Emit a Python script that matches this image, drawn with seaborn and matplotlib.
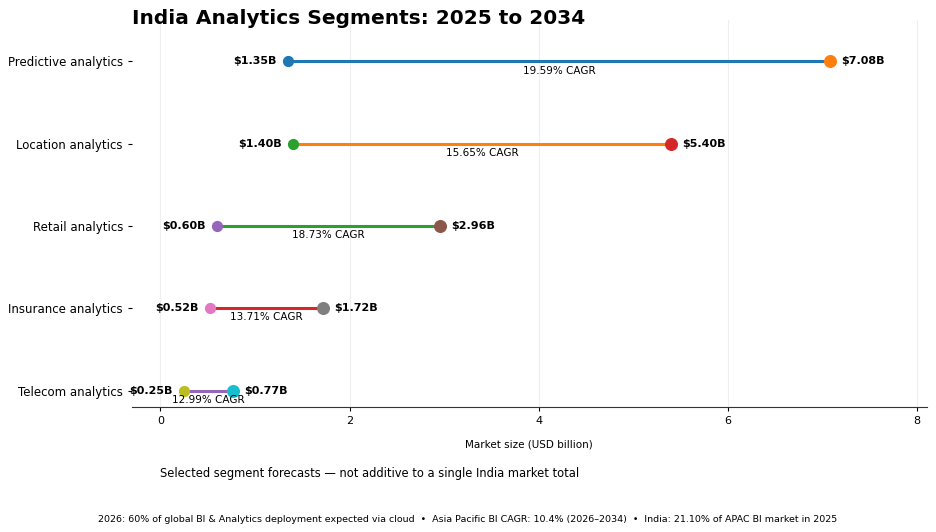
import matplotlib
matplotlib.use("Agg")
import matplotlib.pyplot as plt
import seaborn as sns

segments = ["Predictive analytics", "Location analytics", "Retail analytics", "Insurance analytics", "Telecom analytics"]
v2025 = [1.35, 1.40, 0.60, 0.52, 0.25]
v2034 = [7.08, 5.40, 2.96, 1.72, 0.77]
cagr = ["19.59% CAGR", "15.65% CAGR", "18.73% CAGR", "13.71% CAGR", "12.99% CAGR"]

sns.set_style("white")
plt.rcParams.update({"text.color": "black", "axes.labelcolor": "black",
                     "xtick.color": "black", "ytick.color": "black"})
pal = sns.color_palette("tab10")
fig = plt.figure(figsize=(9.36, 5.32), dpi=100)
ax = fig.add_axes([0.141, 0.235, 0.849, 0.727])
for i, (s, a, b, c) in enumerate(zip(segments, v2025, v2034, cagr)):
    ax.plot([a, b], [i, i], color=pal[i % 10], lw=2.2, zorder=2)
    ax.scatter([a], [i], color=pal[(2 * i) % 10], s=50, zorder=3)
    ax.scatter([b], [i], color=pal[(2 * i + 1) % 10], s=70, zorder=3)
    ax.annotate(f"${a:.2f}B", (a, i), xytext=(-8, 0), textcoords="offset points",
                ha="right", va="center", fontsize=8, fontweight="bold")
    ax.annotate(f"${b:.2f}B", (b, i), xytext=(8, 0), textcoords="offset points",
                ha="left", va="center", fontsize=8, fontweight="bold")
    ax.annotate(c, ((a + b) / 2, i), xytext=(0, -3), textcoords="offset points",
                ha="center", va="top", fontsize=7.5)
ax.set_yticks(range(len(segments)))
ax.set_yticklabels(segments, fontsize=8.5)
ax.set_ylim(4.2, -0.5)
ax.set_xlim(-0.3, 8.1)
ax.set_xticks([0, 2, 4, 6, 8])
ax.tick_params(axis="x", labelsize=8, length=3, bottom=True)
ax.tick_params(axis="y", length=3, left=True)
ax.grid(axis="x", color="#eeeeee", lw=0.8)
ax.set_axisbelow(True)
for sp in ["top", "right", "left"]:
    ax.spines[sp].set_visible(False)
ax.spines["bottom"].set_color("#333333")
ax.set_xlabel("Market size (USD billion)", fontsize=7.5, labelpad=10)
fig.text(0.141, 1 - 24 / 532, "India Analytics Segments: 2025 to 2034", fontsize=14.5, fontweight="bold", ha="left", va="baseline")
fig.text(0.171, 1 - 473 / 532, "Selected segment forecasts — not additive to a single India market total", fontsize=8.3, va="center")
fig.text(0.5, 1 - 519 / 532, "2026: 60% of global BI & Analytics deployment expected via cloud  •  Asia Pacific BI CAGR: 10.4% (2026–2034)  •  India: 21.10% of APAC BI market in 2025",
         fontsize=6.8, ha="center", va="center")
fig.savefig("out.png", dpi=100)
